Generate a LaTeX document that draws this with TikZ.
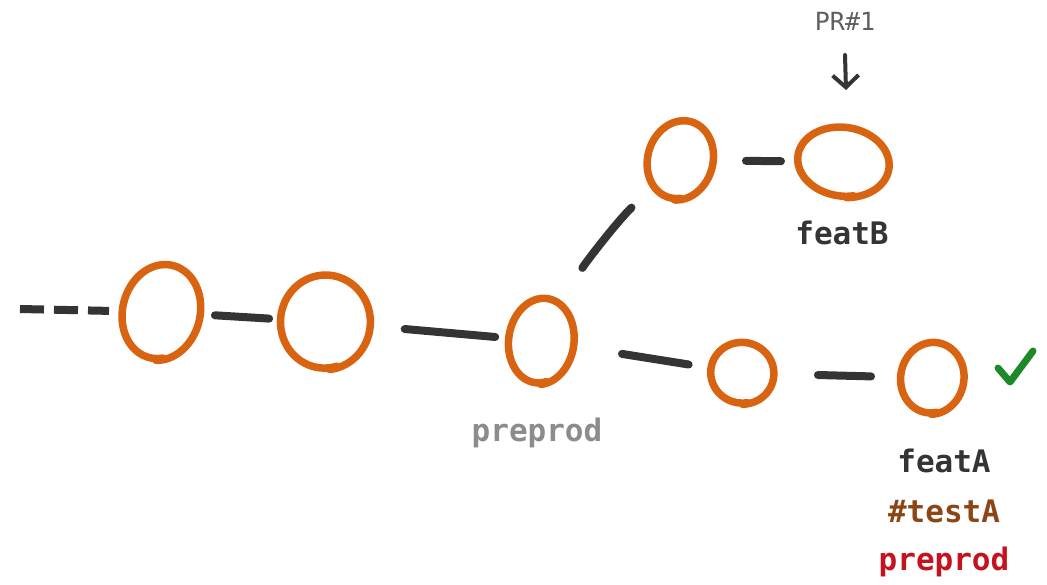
\documentclass[tikz,border=0pt]{standalone}
\usepackage{fontspec}
\setmonofont{DejaVu Sans Mono}
\usetikzlibrary{shapes.geometric,arrows.meta}
\definecolor{penorange}{RGB}{216,100,18}
\definecolor{inkgray}{RGB}{52,52,52}
\definecolor{softgray}{RGB}{140,140,140}
\definecolor{prgray}{RGB}{95,95,95}
\definecolor{tagbrown}{RGB}{140,70,22}
\definecolor{tagred}{RGB}{198,18,30}
\definecolor{okgreen}{RGB}{28,138,40}
\tikzset{
  commit/.style={ellipse, inner sep=0pt},
  pen/.style={draw=penorange, line width=7.5pt, line cap=round, line join=round},
  link/.style={draw=inkgray, line width=8pt, line cap=round},
  tag/.style={font=\ttfamily\bfseries\fontsize{31}{36}\selectfont, inner sep=0pt},
}
% hand-drawn loop around a commit: centre, x radius, y radius, tilt
\newcommand\penloop[4]{%
  \draw[pen, shift={(#1)}, rotate=#4]
    plot[smooth, domain=70:440, samples=60]
      ({#2*(1+0.04*(\x-70)/370)*cos(\x)}, {#3*(1+0.04*(\x-70)/370)*sin(\x)});}
\begin{document}
\begin{tikzpicture}[x=1pt,y=-1pt]
\useasboundingbox (0,0) rectangle (1047,584);

% commits
\node[commit, minimum width=80pt, minimum height=92pt] (c1) at (161,312) {};
\node[commit, minimum width=88pt, minimum height=92pt] (c2) at (325,322) {};
\node[commit, minimum width=66pt, minimum height=84pt] (c3) at (541,341) {};
\node[commit, minimum width=66pt, minimum height=78pt] (c4) at (680,160) {};
\node[commit, minimum width=90pt, minimum height=70pt] (c5) at (843,162) {};
\node[commit, minimum width=62pt, minimum height=60pt] (c6) at (742,373) {};
\node[commit, minimum width=62pt, minimum height=70pt] (c7) at (932,378) {};

\penloop{c1.center}{38}{47}{-14}
\penloop{c2.center}{44}{46}{-4}
\penloop{c3.center}{32}{42}{-8}
\penloop{c4.center}{32}{39}{-16}
\penloop{c5.center}{45}{34}{-8}
\penloop{c6.center}{31}{30}{-10}
\penloop{c7.center}{31}{35}{-10}

% history
\coordinate (tail) at (20,309);
\draw[link, line cap=butt, dash pattern=on 24pt off 10pt, shorten >=52pt] (tail) -- (c1.center);
\draw[link, shorten <=54pt, shorten >=56pt] (c1.center) -- (c2.center);
\draw[link, shorten <=80pt, shorten >=46pt] (c2.center) -- (c3.center);
\draw[link, shorten <=84pt, shorten >=68pt] (c3.center) to[bend left=8] (c4.center);
\draw[link, shorten <=66pt, shorten >=62pt] (c4.center) -- (c5.center);
\draw[link, shorten <=82pt, shorten >=54pt] (c3.center) -- (c6.center);
\draw[link, shorten <=76pt, shorten >=61pt] (c6.center) -- (c7.center);

% labels
\node[tag, text=inkgray] (lb) at (842,233) {featB};
\node[tag, text=softgray] (lp) at (537,433) {preprod};
\node[tag, text=inkgray] (la1) at (944,461) {featA};
\node[tag, text=tagbrown] (la2) at (944,511) {\#testA};
\node[tag, text=tagred] (la3) at (944,562) {preprod};

% pull request pointer
\node[font=\ttfamily\fontsize{25}{30}\selectfont, text=prgray, inner sep=0pt] (pr) at (845,21) {PR\#1};
\coordinate (prtip) at (846,90);
\draw[draw=inkgray, line width=4pt, line cap=round,
      -{Straight Barb[length=12pt, width=26pt, line width=4pt]}]
  ([yshift=-34pt]pr.center) -- (prtip);

% green tick next to featA
\coordinate (tick) at (998,368);
\draw[draw=okgreen, line width=7pt, line cap=round, line join=round]
  (tick) -- ++(12,14) -- ++(23,-31);
\end{tikzpicture}
\end{document}
